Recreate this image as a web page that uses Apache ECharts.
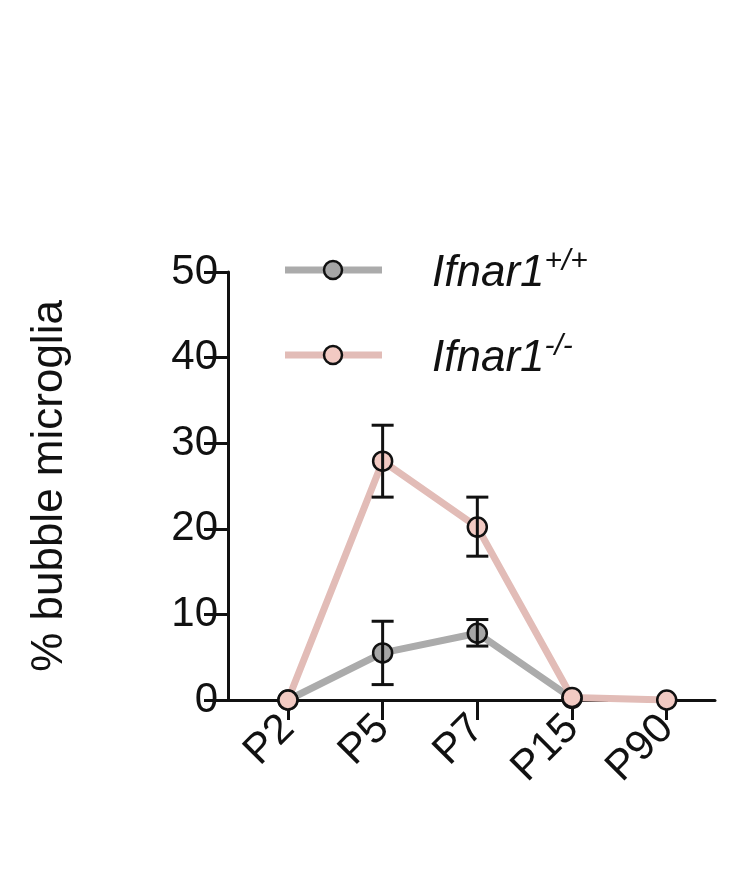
<!DOCTYPE html>
<html lang="en">
<head>
    <meta charset="UTF-8">
    <script src="https://cdn.jsdelivr.net/npm/echarts@6/dist/echarts.min.js"></script>
</head>
<body style="margin:0">
<div style="width: 750px;height: 880px" id="chart"></div>

<script>
    var categories = ['P2', 'P5', 'P7', 'P15', 'P90']
    var wtMean = [0, 5.5, 7.8, 0.2, null]
    var wtLow = [null, 1.8, 6.3, null, null]
    var wtHigh = [null, 9.2, 9.4, null, null]
    var koMean = [0, 27.9, 20.2, 0.3, 0]
    var koLow = [null, 23.7, 16.8, null, null]
    var koHigh = [null, 32.1, 23.7, null, null]
    var yTicks = [0, 10, 20, 30, 40, 50]

    var grey = '#ababab', pink = '#e2bcb7'
    var font = 'Liberation Sans, Arial, sans-serif'

    function pts(arr) {
        var out = []
        arr.forEach(function (v, i) { if (v !== null) out.push([i, v]) })
        return out
    }
    function bars(low, high) {
        var out = []
        low.forEach(function (v, i) { if (v !== null) out.push([i, v, high[i]]) })
        return out
    }
    function errSeries(low, high) {
        return {
            type: 'custom',
            z: 5,
            data: bars(low, high),
            renderItem: function (params, api) {
                var lo = api.coord([api.value(0), api.value(1)])
                var hi = api.coord([api.value(0), api.value(2)])
                var w = 11
                var st = { stroke: '#111', lineWidth: 3 }
                return {
                    type: 'group', children: [
                        { type: 'line', shape: { x1: lo[0], y1: lo[1], x2: hi[0], y2: hi[1] }, style: st },
                        { type: 'line', shape: { x1: lo[0] - w, y1: lo[1], x2: lo[0] + w, y2: lo[1] }, style: st },
                        { type: 'line', shape: { x1: hi[0] - w, y1: hi[1], x2: hi[0] + w, y2: hi[1] }, style: st }
                    ]
                }
            }
        }
    }
    function lineSeries(data, color, fill) {
        return {
            type: 'line', data: pts(data), z: 3,
            lineStyle: { color: color, width: 7 },
            symbol: 'circle', symbolSize: 19,
            itemStyle: { color: fill, borderColor: '#111', borderWidth: 2.5 }
        }
    }
    function legendItem(y, color, fill, sup) {
        return [
            { type: 'line', shape: { x1: 285, y1: y, x2: 382, y2: y }, style: { stroke: color, lineWidth: 7 } },
            { type: 'circle', shape: { cx: 333, cy: y, r: 9 }, style: { fill: fill, stroke: '#111', lineWidth: 2.5 } },
            { type: 'text', x: 432, y: y + 4, style: {
                text: '{a|Ifnar1}{b|' + sup + '}', verticalAlign: 'middle',
                rich: {
                    a: { fontSize: 44, fontStyle: 'italic', fontFamily: font, fill: '#111' },
                    b: { fontSize: 30, fontStyle: 'italic', fontFamily: font, fill: '#111', verticalAlign: 'top', padding: [0, 0, 24, 0] }
                }
            } }
        ]
    }

    var myChart = echarts.init(document.getElementById('chart'))
    var option = {
        animation: false,
        grid: { left: 228, right: 35, top: 272, bottom: 180 },
        xAxis: {
            type: 'value', min: -0.633, max: 4.51,
            axisLine: { show: true, onZero: false, lineStyle: { color: '#111', width: 3 } },
            splitLine: { show: false },
            axisTick: { show: true, length: 20, customValues: [0, 1, 2, 3, 4], lineStyle: { color: '#111', width: 3 } },
            axisLabel: {
                customValues: [0, 1, 2, 3, 4], rotate: 45, margin: 22,
                fontSize: 42, fontFamily: font, color: '#111',
                formatter: function (v) { return categories[Math.round(v)] }
            }
        },
        yAxis: {
            type: 'value', min: 0, max: 50, interval: 10,
            name: '% bubble microglia', nameLocation: 'middle', nameGap: 156,
            nameTextStyle: { fontSize: 44, fontFamily: font, color: '#111' },
            axisLine: { show: true, onZero: false, lineStyle: { color: '#111', width: 3 } },
            splitLine: { show: false },
            axisTick: { show: true, length: 24, lineStyle: { color: '#111', width: 3 } },
            axisLabel: { fontSize: 42, fontFamily: font, color: '#111', margin: 10,
                formatter: function (v) { return yTicks.indexOf(v) >= 0 ? v : '' } }
        },
        graphic: legendItem(270, grey, '#a6a6a6', '+/+').concat(legendItem(355, pink, '#f2cac3', '-/-')),
        series: [
            lineSeries(wtMean, grey, '#a6a6a6'),
            lineSeries(koMean, pink, '#f2cac3'),
            errSeries(wtLow, wtHigh),
            errSeries(koLow, koHigh)
        ]
    }
    myChart.setOption(option)
</script>
</body>
</html>
